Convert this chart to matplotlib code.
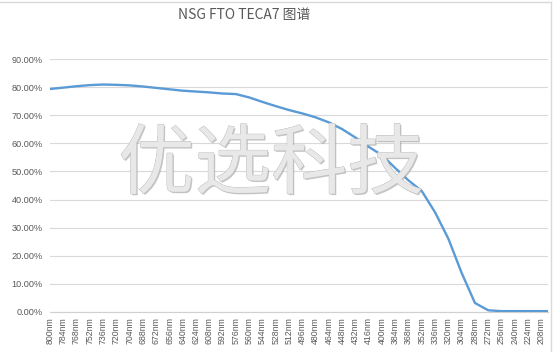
import matplotlib.pyplot as plt
import matplotlib.patheffects as pe
from matplotlib.lines import Line2D
from matplotlib.ticker import PercentFormatter

# Data (transmittance)
wavelengths = [800, 784, 768, 752, 736, 720, 704, 688, 672, 656, 640, 624, 608,
               592, 576, 560, 544, 528, 512, 496, 480, 464, 448, 432, 416, 400,
               384, 368, 352, 336, 320, 304, 288, 272, 256, 240, 224, 208, 200]
transmittance = [79.4, 79.9, 80.4, 80.8, 81.0, 80.9, 80.7, 80.3, 79.8, 79.3,
                 78.8, 78.5, 78.2, 77.8, 77.6, 76.4, 74.8, 73.3, 71.9, 70.7,
                 69.3, 67.5, 65.1, 62.1, 58.8, 55.8, 51.2, 46.8, 43.0, 35.4,
                 26.0, 13.8, 3.1, 0.5, 0.2, 0.2, 0.2, 0.2, 0.2]
tick_nm = list(range(800, 207, -16))
tick_labels = [f"{w}nm" for w in tick_nm]
yticks = [0, 10, 20, 30, 40, 50, 60, 70, 80, 90]

W, H = 554, 352
fig = plt.figure(figsize=(W / 100, H / 100), dpi=100)
ax = fig.add_axes([50 / W, 1 - 311.7 / H, 498 / W, (311.7 - 59.3) / H])

ax.plot(wavelengths, transmittance, color="#5B9BD5", linewidth=1.7, zorder=3,
        solid_capstyle="round")

ax.set_xlim(800, 200)
ax.set_ylim(0, 90)
ax.set_yticks(yticks)
ax.yaxis.set_major_formatter(PercentFormatter(decimals=2))
ax.set_xticks(tick_nm)
ax.set_xticklabels(tick_labels, rotation=90, fontsize=6.3, family="Liberation Sans",
                   color="#595959")
for t in ax.get_yticklabels():
    t.set_fontsize(6.6)
    t.set_family("Liberation Sans")
    t.set_color("#595959")
ax.tick_params(length=0, pad=5)
ax.tick_params(axis="x", pad=4)
ax.grid(axis="y", color="#d9d9d9", linewidth=0.8)
ax.set_axisbelow(True)
for s in ["left", "right", "top"]:
    ax.spines[s].set_visible(False)
ax.spines["bottom"].set_color("#d0d0d0")
ax.spines["bottom"].set_linewidth(0.8)

fig.text(244 / W, 1 - 15 / H, "NSG FTO TECA7 图谱", ha="center", va="center",
         fontsize=10, color="#595959", family=["Noto Sans CJK SC", "DejaVu Sans"])

# watermark
fig.text(271 / W, 1 - 166 / H, "优选科技", ha="center", va="center",
         fontsize=55, color="#e8e8e8", family="Noto Sans CJK SC",
         fontweight="light", zorder=2,
         path_effects=[pe.withSimplePatchShadow(offset=(1, -1),
                                                shadow_rgbFace="#a0a0a0",
                                                alpha=0.6),
                       pe.Stroke(linewidth=0.6, foreground="#b8b8b8"),
                       pe.Normal()])

# chart border
fig.add_artist(Line2D([0, 550.5 / W], [1 - 1.5 / H] * 2, color="#d9d9d9",
                      linewidth=1, transform=fig.transFigure))
fig.add_artist(Line2D([550.5 / W] * 2, [0, 1 - 1.5 / H], color="#d9d9d9",
                      linewidth=1, transform=fig.transFigure))

fig.savefig("out.png", dpi=100, facecolor="white")
